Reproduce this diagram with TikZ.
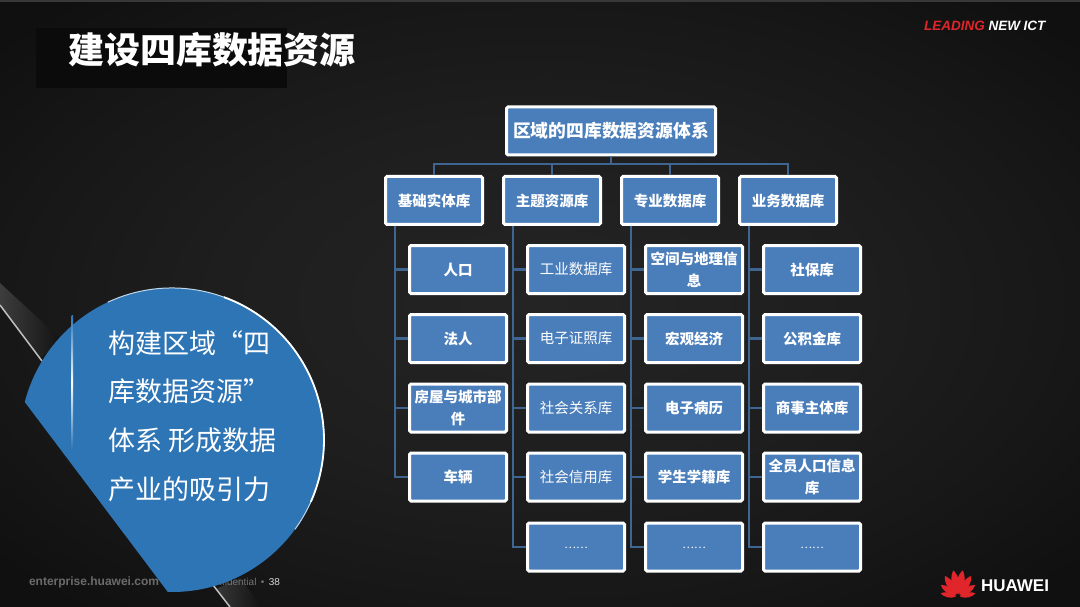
\documentclass[tikz,border=0pt]{standalone}
\usepackage{fontspec}
\setmainfont{Noto Sans CJK SC}
\newfontfamily\latinfont{Liberation Sans}
\usetikzlibrary{positioning}
\definecolor{boxblue}{HTML}{4A7EBB}
\definecolor{linkblue}{HTML}{3F6593}
\definecolor{discblue}{HTML}{2E75B6}
\definecolor{hwred}{HTML}{E0262B}
\definecolor{bgmid}{HTML}{242424}
\definecolor{bgring}{HTML}{1E1E1E}
\definecolor{bgouter}{HTML}{171717}
\definecolor{bgedge}{HTML}{101010}
\definecolor{titledark}{HTML}{0B0B0B}
\pgfdeclareradialshading{slidebg}{\pgfpoint{0bp}{0bp}}{color(0bp)=(bgmid); color(15bp)=(bgring); color(25bp)=(bgouter); color(33bp)=(bgedge); color(100bp)=(bgedge)}
\newcommand{\hwpetal}[2]{\fill[hwred,shift={(958,597)},rotate=#1,scale=#2] (0,-3) .. controls (-6,-11) and (-4,-22) .. (0,-27) .. controls (4,-22) and (6,-11) .. (0,-3);}
\begin{document}
\begin{tikzpicture}[x=1pt,y=-1pt,inner sep=0pt,outer sep=0pt,
kublock/.style={draw=white,fill=boxblue,rounded corners=1.5pt,line width=3pt,text=white,align=center,minimum width=97pt,minimum height=48pt,font=\fontsize{14.5}{22}\selectfont\bfseries},
lightblock/.style={kublock,font=\fontsize{14.5}{22}\selectfont},
dotblock/.style={kublock,font=\fontsize{11}{22}\selectfont},
link/.style={draw=linkblue,line width=2.2pt,shorten >=1.5pt,shorten <=1.5pt}]
\useasboundingbox (0,0) rectangle (1080,607);
% background
\shade[shading=slidebg] (0,0) rectangle (1080,607);
\fill[black!78] (0,0) rectangle (1080,2);
\fill[titledark] (36,28) rectangle (287,88);
% diagonal bands
\shade[shading angle=35,left color=black!76,right color=black!93] (0,283) -- (0,305) -- (40,358) -- (62,340) -- cycle;
\shade[shading angle=35,left color=black!78,right color=black!93] (216,589) -- (230,607) -- (262,607) -- (240,578) -- cycle;
\draw[white!75!black,line width=1.5pt] (0,305) -- (42,361);
\draw[white!75!black,line width=1.5pt] (213,585) -- (230,607);
% title and footer
\draw (68,50) node[anchor=west,text=white,font=\fontsize{36}{40}\selectfont\bfseries] (title) {建设四库数据资源};
\draw (29,582) node[anchor=west,text=black!58,font=\latinfont\fontsize{12}{14}\selectfont\bfseries] (site) {enterprise.huawei.com};
\draw (280,582) node[anchor=east,text=black!55,font=\latinfont\fontsize{10}{11}\selectfont] (conf) {Confidential \,•\, \textcolor{white!85!black}{38}};
% disc
\begin{scope}
\clip (-95,243) -- (314,786) -- (600,786) -- (600,243) -- cycle;
\fill[discblue] (172,440) circle (152pt);
\draw[white!70!discblue,line width=1pt] (172,440) ++(115:152pt) arc[start angle=115,end angle=-36,radius=152pt];
\draw[white,line width=1.8pt] (172,440) ++(70:152pt) arc[start angle=70,end angle=-24,radius=152pt];
\end{scope}
\shade[top color=discblue,bottom color=discblue,middle color=white] (71.5,315) rectangle (73,450);
\draw (108,416) node[anchor=west,text=white,align=left,font=\fontsize{27}{48.7}\selectfont] (slogan) {构建区域“四\\库数据资源”\\体系 形成数据\\产业的吸引力};
% tree
\draw (611,131) node[kublock,minimum width=209pt,font=\fontsize{17.8}{22}\selectfont\bfseries] (root) {区域的四库数据资源体系};
\draw (434,200.5) node[kublock] (jichu) {基础实体库};
\draw (552,200.5) node[kublock] (zhuti) {主题资源库};
\draw (670,200.5) node[kublock] (zhuanye) {专业数据库};
\draw (788,200.5) node[kublock] (yewu) {业务数据库};
\draw (458,269.5) node[kublock] (renkou) {人口};
\draw (458,338.5) node[kublock] (faren) {法人};
\draw (458,408) node[kublock] (fangwu) {房屋与城市部\\件};
\draw (458,477) node[kublock] (cheliang) {车辆};
\draw (576,269.5) node[lightblock] (gongye) {工业数据库};
\draw (576,338.5) node[lightblock] (zhengzhao) {电子证照库};
\draw (576,408) node[lightblock] (guanxi) {社会关系库};
\draw (576,477) node[lightblock] (xinyong) {社会信用库};
\draw (576,547) node[dotblock] (more2) {\raisebox{-3pt}{……}};
\draw (694,269.5) node[kublock] (kongjian) {空间与地理信\\息};
\draw (694,338.5) node[kublock] (hongguan) {宏观经济};
\draw (694,408) node[kublock] (bingli) {电子病历};
\draw (694,477) node[kublock] (xueji) {学生学籍库};
\draw (694,547) node[dotblock] (more3) {\raisebox{-3pt}{……}};
\draw (812,269.5) node[kublock] (shebao) {社保库};
\draw (812,338.5) node[kublock] (gongjijin) {公积金库};
\draw (812,408) node[kublock] (shangshi) {商事主体库};
\draw (812,477) node[kublock] (quanyuan) {全员人口信息\\库};
\draw (812,547) node[dotblock] (more4) {\raisebox{-3pt}{……}};
\draw[link] (root.south) -- ++(0,9) -| (jichu.north);
\draw[link] (root.south) -- ++(0,9) -| (zhuti.north);
\draw[link] (root.south) -- ++(0,9) -| (zhuanye.north);
\draw[link] (root.south) -- ++(0,9) -| (yewu.north);
\draw[link] ([xshift=9.5pt]jichu.south west) |- (renkou.west);
\draw[link] ([xshift=9.5pt]jichu.south west) |- (faren.west);
\draw[link] ([xshift=9.5pt]jichu.south west) |- (fangwu.west);
\draw[link] ([xshift=9.5pt]jichu.south west) |- (cheliang.west);
\draw[link] ([xshift=9.5pt]zhuti.south west) |- (gongye.west);
\draw[link] ([xshift=9.5pt]zhuti.south west) |- (zhengzhao.west);
\draw[link] ([xshift=9.5pt]zhuti.south west) |- (guanxi.west);
\draw[link] ([xshift=9.5pt]zhuti.south west) |- (xinyong.west);
\draw[link] ([xshift=9.5pt]zhuti.south west) |- (more2.west);
\draw[link] ([xshift=9.5pt]zhuanye.south west) |- (kongjian.west);
\draw[link] ([xshift=9.5pt]zhuanye.south west) |- (hongguan.west);
\draw[link] ([xshift=9.5pt]zhuanye.south west) |- (bingli.west);
\draw[link] ([xshift=9.5pt]zhuanye.south west) |- (xueji.west);
\draw[link] ([xshift=9.5pt]zhuanye.south west) |- (more3.west);
\draw[link] ([xshift=9.5pt]yewu.south west) |- (shebao.west);
\draw[link] ([xshift=9.5pt]yewu.south west) |- (gongjijin.west);
\draw[link] ([xshift=9.5pt]yewu.south west) |- (shangshi.west);
\draw[link] ([xshift=9.5pt]yewu.south west) |- (quanyuan.west);
\draw[link] ([xshift=9.5pt]yewu.south west) |- (more4.west);
% logos
\draw (924,26) node[anchor=west,font=\latinfont\fontsize{13.5}{15}\selectfont\bfseries\itshape] (slogan2) {\textcolor{hwred}{LEADING} \textcolor{white}{NEW ICT}};
\hwpetal{-10}{1}
\hwpetal{10}{1}
\hwpetal{-32}{0.92}
\hwpetal{32}{0.92}
\hwpetal{-55}{0.78}
\hwpetal{55}{0.78}
\hwpetal{-78}{0.66}
\hwpetal{78}{0.66}
\draw (981,586) node[anchor=west,text=white,font=\latinfont\fontsize{17}{19}\selectfont\bfseries] (brand) {HUAWEI};
\end{tikzpicture}
\end{document}
